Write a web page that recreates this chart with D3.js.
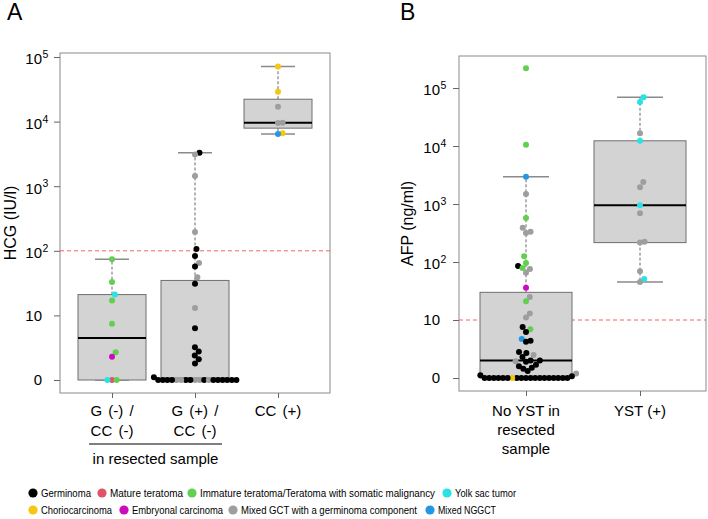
<!DOCTYPE html>
<html><head><meta charset="utf-8">
<script src="https://cdn.jsdelivr.net/npm/d3@7"></script>
<style>
body{margin:0;background:#fff}
svg{display:block}
text{font-family:"Liberation Sans",Arial,sans-serif;fill:#000}
.leg{font-family:"Liberation Sans",Arial,sans-serif}
</style>
</head><body>
<svg id="c" width="708" height="519"></svg>
<script>
// ---------- DATA ----------
const tumorTypes  = ["G","MT","IT","YST","CC","EC","MX","NG"];
const tumorLabels = ["Germinoma","Mature teratoma","Immature teratoma/Teratoma with somatic malignancy","Yolk sac tumor",
                     "Choriocarcinoma","Embryonal carcinoma","Mixed GCT with a germinoma component","Mixed NGGCT"];
const tumorColors = ["#000000","#DF536B","#61D04F","#28E2E5","#F5C710","#CD0BBC","#9E9E9E","#2297E6"];

const yTickPos   = [0,1,2,3,4,5];
const yTickBase  = ["0","10","10","10","10","10"];
const yTickExp   = ["","","2","3","4","5"];

// Panel A: HCG (IU/l), [value, tumor type]
const hcgCategories = [["G (-) /","CC (-)"],["G (+) /","CC (-)"],["CC (+)"]];
const hcgGnegCCneg = [[73,"IT"],[32,"IT"],[20,"YST"],[16,"IT"],[6.4,"IT"],[1.7,"IT"],[1.3,"EC"],
                      [0,"MT"],[0,"IT"],[0,"YST"]];
const hcgGposCCneg = [[3300,"G"],[3100,"MX"],[1440,"MX"],[195,"MX"],[106,"G"],[82,"G"],[64,"MX"],[56,"G"],
                      [38,"MX"],[30,"G"],[12,"MX"],[5.3,"G"],[2.2,"G"],[1.75,"G"],[1.4,"G"],[1.1,"G"],[0.8,"G"],[0.1,"G"],
                      [0,"MX"],[0,"MX"],[0,"G"],[0,"G"],[0,"G"],[0,"MX"],[0,"MX"],[0,"G"],[0,"MX"],
                      [0,"G"],[0,"G"],[0,"G"],[0,"G"],[0,"G"],[0,"G"],[0,"G"],[0,"G"],[0,"G"]];
const hcgCCpos = [[71000,"CC"],[29000,"CC"],[17000,"MX"],[9500,"MX"],[9600,"MX"],[6600,"CC"],[6400,"NG"]];
const hcgCutoff = 100;

// Panel B: AFP (ng/ml)
const afpCategories = [["No YST in","resected","sample"],["YST (+)"]];
const afpNoYST = [[219000,"IT"],[10500,"IT"],[2950,"NG"],[1480,"MX"],[575,"IT"],[388,"MX"],[330,"MX"],[315,"MX"],
                  [125,"IT"],[95,"IT"],[84,"G"],[78,"IT"],[75,"MX"],[64,"MX"],[35,"EC"],
                  [24,"MX"],[20,"IT"],[12,"MX"],[10,"MX"],[6.6,"G"],[5.9,"IT"],[5.2,"G"],[3.7,"NG"],[3.4,"G"],[3.2,"G"],
                  [1.8,"G"],[1.7,"G"],[1.5,"MX"],[1.3,"G"],
                  [1.0,"G"],[1.0,"G"],[0.95,"MX"],[0.9,"G"],
                  [0.7,"G"],[0.6,"G"],[0.5,"G"],[0.45,"G"],[0.32,"G"],[0.2,"MX"],[0.12,"G"],[0.07,"G"],
                  [0,"G"],[0,"G"],[0,"G"],[0,"G"],[0,"G"],[0,"G"],[0,"CC"],[0,"G"],[0,"G"],[0,"G"],
                  [0,"G"],[0,"G"],[0,"G"],[0,"G"],[0,"G"],[0,"G"],[0,"G"],[0,"G"],[0,"G"]];
const afpYST = [[69000,"YST"],[57500,"YST"],[16600,"MX"],[12300,"YST"],[2400,"MX"],[1950,"MX"],[955,"YST"],
                [690,"MX"],[215,"MX"],[222,"MX"],[68,"MX"],[50,"YST"],[44,"MX"]];
const afpCutoff = 10;

// ---------- HELPERS ----------
const color = d3.scaleOrdinal().domain(tumorTypes).range(tumorColors);
const tr = v => Math.log10(v + 1);

function fivenum(a){
  const n = a.length, n4 = Math.floor((n + 3) / 2) / 2;
  return [1, n4, (n + 1) / 2, n + 1 - n4, n].map(d => 0.5 * (a[Math.floor(d) - 1] + a[Math.ceil(d) - 1]));
}
function swarm(ys, xs, yr){
  const idx = ys.map((d,i)=>i).sort((a,b)=>ys[b]-ys[a]);
  const placed = [], out = new Array(ys.length);
  for (const i of idx){
    const y = ys[i], cands = [0];
    for (const p of placed){
      const dy = (p.y - y) / yr;
      if (Math.abs(dy) < 1){ const dx = xs * Math.sqrt(1 - dy*dy); cands.push(p.x + dx, p.x - dx); }
    }
    const ok = cands.filter(c => placed.every(p => { const a=(p.x-c)/xs, b=(p.y-y)/yr; return a*a+b*b >= 1-1e-6; }));
    ok.sort((a,b) => (Math.abs(Math.abs(a)-Math.abs(b)) < 1e-9) ? b - a : Math.abs(a) - Math.abs(b));
    out[i] = ok[0]; placed.push({x: ok[0], y});
  }
  return out;
}

const svg = d3.select("#c");

function drawPanel(p){
  const g = svg.append("g");
  const y = d3.scaleLinear().domain([0,5]).range(p.yRange);
  const x = d3.scalePoint().domain(d3.range(p.groups.length)).range(p.xRange);
  const [fx0, fx1, fy0, fy1] = p.frame;

  g.append("text").attr("x", p.letterX).attr("y", 20).attr("font-size", 23).text(p.letter);

  g.append("rect").attr("x", fx0).attr("y", fy0).attr("width", fx1 - fx0).attr("height", fy1 - fy0)
    .attr("fill", "none").attr("stroke", "#8a8a8a").attr("stroke-width", 1);

  const cy = y(Math.log10(p.cutoff));
  g.append("line").attr("x1", fx0).attr("x2", fx1).attr("y1", cy).attr("y2", cy)
    .attr("stroke", "#F06464").attr("stroke-width", 1).attr("stroke-dasharray", "4,3");

  const ya = g.append("g").attr("transform", `translate(${fx0},0)`)
    .call(d3.axisLeft(y).tickValues(yTickPos).tickSize(6).tickFormat(""));
  ya.select(".domain").remove();
  ya.selectAll(".tick line").attr("stroke", "#666");
  yTickPos.forEach((t, i) => {
    const ty = y(t);
    if (yTickExp[i] === ""){
      g.append("text").attr("x", p.labelX).attr("y", ty + 5.3).attr("text-anchor", "end").attr("font-size", 15).text(yTickBase[i]);
    } else {
      g.append("text").attr("x", p.labelX).attr("y", ty + 7.3).attr("text-anchor", "end").attr("font-size", 15).text(yTickBase[i]);
      g.append("text").attr("x", p.labelX + 0.5).attr("y", ty + 1).attr("font-size", 10.5).text(yTickExp[i]);
    }
  });
  g.append("text").attr("transform", `translate(${p.titleX},${(fy0 + fy1) / 2}) rotate(-90)`)
    .attr("text-anchor", "middle").attr("font-size", 16).text(p.title);

  const xa = g.append("g").attr("transform", `translate(0,${fy1})`)
    .call(d3.axisBottom(x).tickSize(5).tickFormat(""));
  xa.select(".domain").remove();
  xa.selectAll(".tick line").attr("stroke", "#666");
  p.cats.forEach((lines, i) => {
    lines.forEach((s, j) => {
      g.append("text").attr("x", x(i)).attr("y", p.catY0 + j * p.catDy).attr("text-anchor", "middle")
        .attr("font-size", 15).attr("word-spacing", p.wordSpacing || 0).text(s);
    });
  });

  p.groups.forEach((grp, i) => {
    const us = grp.map(d => tr(d[0]));
    const s = us.slice().sort((a, b) => a - b);
    const f = fivenum(s);
    const iqr = f[3] - f[1];
    const hi = d3.max(s.filter(u => u <= f[3] + 1.5 * iqr));
    const lo = d3.min(s.filter(u => u >= f[1] - 1.5 * iqr));
    const cx = x(i), w = p.boxW;

    g.append("line").attr("x1", cx).attr("x2", cx).attr("y1", y(f[3])).attr("y2", y(hi))
      .attr("stroke", "#6a6a6a").attr("stroke-dasharray", "3,2");
    g.append("line").attr("x1", cx).attr("x2", cx).attr("y1", y(f[1])).attr("y2", y(lo))
      .attr("stroke", "#6a6a6a").attr("stroke-dasharray", "3,2");
    [hi, lo].forEach(v => g.append("line").attr("x1", cx - w / 4).attr("x2", cx + w / 4)
      .attr("y1", y(v)).attr("y2", y(v)).attr("stroke", "#8a8a8a").attr("stroke-width", 1.5));
    g.append("rect").attr("x", cx - w / 2).attr("y", y(f[3])).attr("width", w).attr("height", y(f[1]) - y(f[3]))
      .attr("fill", "#D3D3D3").attr("stroke", "#6e6e6e").attr("stroke-width", 1);
    g.append("line").attr("x1", cx - w / 2).attr("x2", cx + w / 2).attr("y1", y(f[2])).attr("y2", y(f[2]))
      .attr("stroke", "#000").attr("stroke-width", 2);

    const py = us.map(u => y(u));
    const off = swarm(py, 4.6, 7.5);
    g.selectAll(null).data(grp).enter().append("circle")
      .attr("cx", (d, k) => cx + off[k]).attr("cy", (d, k) => py[k]).attr("r", 3)
      .attr("fill", d => color(d[1]));
  });
}

drawPanel({letter: "A", letterX: 7, frame: [60, 330, 53, 393], yRange: [380, 57], xRange: [112, 278], boxW: 68,
  groups: [hcgGnegCCneg, hcgGposCCneg, hcgCCpos], cats: hcgCategories, cutoff: hcgCutoff,
  title: "HCG (IU/l)", titleX: 16, labelX: 42, catY0: 416, catDy: 20, wordSpacing: 2});
drawPanel({letter: "B", letterX: 400, frame: [459, 706, 56, 391], yRange: [378, 88], xRange: [526, 640], boxW: 92,
  groups: [afpNoYST, afpYST], cats: afpCategories, cutoff: afpCutoff,
  title: "AFP (ng/ml)", titleX: 413, labelX: 440, catY0: 416, catDy: 19});

svg.append("line").attr("x1", 89).attr("x2", 222).attr("y1", 444).attr("y2", 444).attr("stroke", "#000").attr("stroke-width", 1.2);
svg.append("text").attr("x", 155.5).attr("y", 464).attr("text-anchor", "middle").attr("font-size", 15).text("in resected sample");

// legend
const legendLayout = [[33, 493, 50], [102, 493, 73], [192, 493, 235], [447, 493, 61],
                      [33, 510, 71], [124, 510, 91], [233, 510, 176], [430, 510, 58]];
tumorTypes.forEach((t, i) => {
  const [lx, ly, lw] = legendLayout[i];
  svg.append("circle").attr("cx", lx).attr("cy", ly).attr("r", 4.6).attr("fill", color(t));
  svg.append("text").attr("class", "leg").attr("x", lx + 8).attr("y", ly + 4).attr("font-size", 10.5)
    .attr("textLength", lw).attr("lengthAdjust", "spacingAndGlyphs").text(tumorLabels[i]);
});
</script>
</body></html>
